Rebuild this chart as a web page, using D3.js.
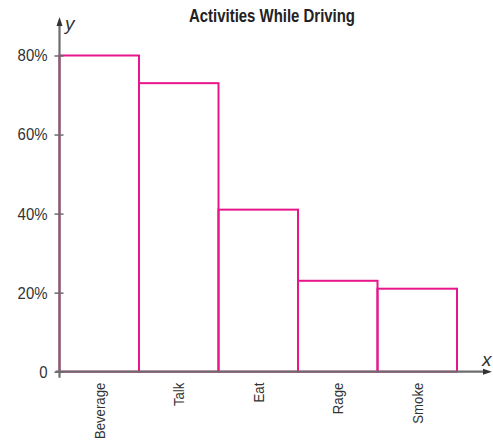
<!DOCTYPE html>
<html><head><meta charset="utf-8">
<script src="https://cdn.jsdelivr.net/npm/d3@7"></script>
<style>
body{margin:0;background:#fff;}
text{font-family:"Liberation Sans",Arial,sans-serif;}
</style></head>
<body>
<svg id="c" width="493" height="444"></svg>
<script>
const title = "Activities While Driving";
const categories = ["Beverage","Talk","Eat","Rage","Smoke"];
const values = [0.80,0.73,0.41,0.23,0.21];
const yTicks = [0,0.2,0.4,0.6,0.8];
const yTickLabels = ["0","20%","40%","60%","80%"];

const svg = d3.select("#c");
const x0 = 59.5, x1 = 457, yBase = 371.7, yTop = 55.5;
const x = d3.scaleBand().domain(categories).range([x0,x1]).padding(0);
const y = d3.scaleLinear().domain([0,0.8]).range([yBase,yTop]);
const axisColor = "#6d6d6d";
const barColor = "#e8168b";
const sx = 0.88, cx = 0.85;

// title
svg.append("text").attr("x",272).attr("y",21.5).attr("text-anchor","middle")
  .attr("font-weight","bold").attr("font-size",18).attr("fill","#222")
  .attr("textLength",166).attr("lengthAdjust","spacingAndGlyphs").text(title);

// bars
svg.append("g").selectAll("rect").data(categories).join("rect")
  .attr("x",d=>x(d)).attr("y",(d,i)=>y(values[i]))
  .attr("width",x.bandwidth()).attr("height",(d,i)=>yBase-y(values[i]))
  .attr("fill","none").attr("stroke",barColor).attr("stroke-width",2);

// y axis
const yAxis = d3.axisLeft(y).tickValues(yTicks).tickFormat((d,i)=>yTickLabels[i]).tickSize(5).tickPadding(0);
const gy = svg.append("g").attr("transform",`translate(${x0},0)`).call(yAxis);
gy.select(".domain").remove();
gy.selectAll(".tick line").attr("x1",4).attr("stroke",axisColor).attr("stroke-width",1.5);
gy.selectAll(".tick text").attr("font-size",17).attr("fill","#333")
  .attr("x",-12/sx).attr("transform",`scale(${sx},1)`);

// axis lines with arrows
svg.append("line").attr("x1",x0).attr("x2",x0).attr("y1",yBase+6).attr("y2",24)
  .attr("stroke",axisColor).attr("stroke-width",2.2);
svg.append("path").attr("d",`M${x0},17 L${x0-3},26 L${x0+3},26 Z`).attr("fill","#333");
svg.append("line").attr("x1",x0-4).attr("x2",485).attr("y1",yBase).attr("y2",yBase)
  .attr("stroke",axisColor).attr("stroke-width",2.2);
svg.append("path").attr("d",`M${492},${yBase} L${483},${yBase-3} L${483},${yBase+3} Z`).attr("fill","#333");

// axis letters
svg.append("text").attr("x",65).attr("y",30).attr("font-style","italic").attr("font-size",19).attr("fill","#333").text("y");
svg.append("text").attr("x",482).attr("y",366).attr("font-style","italic").attr("font-size",19).attr("fill","#333").text("x");

// category labels
const xAxis = d3.axisBottom(x).tickSize(0).tickPadding(0);
const gx = svg.append("g").attr("transform",`translate(0,${yBase})`).call(xAxis);
gx.select(".domain").remove();
gx.selectAll(".tick text").attr("transform",`rotate(-90) scale(${cx},1)`).attr("text-anchor","end")
  .attr("x",-11/cx).attr("y",0).attr("dy","0.35em").attr("font-size",15.5).attr("fill","#333");
</script>
</body></html>
